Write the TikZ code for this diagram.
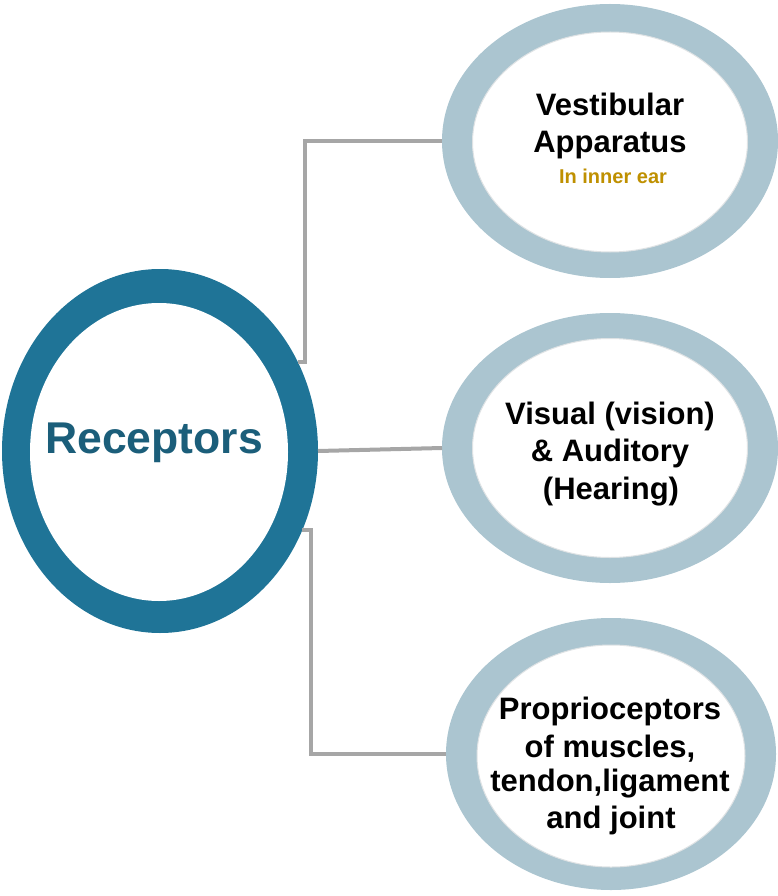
\documentclass[tikz,border=0pt]{standalone}
\usepackage{fontspec}
\setmainfont{Liberation Sans}
\usetikzlibrary{shapes.geometric}
\definecolor{ringdark}{RGB}{31,116,151}
\definecolor{textdark}{RGB}{27,94,122}
\definecolor{ringlight}{RGB}{171,197,208}
\definecolor{conncol}{RGB}{166,166,166}
\definecolor{goldtxt}{RGB}{191,144,0}
\definecolor{rimgray}{RGB}{222,226,228}
\begin{document}
\begin{tikzpicture}[x=1pt,y=-1pt,
  ring/.style={ellipse, inner sep=0pt, outer sep=0pt, fill=#1},
  hole/.style={fill=white, draw=rimgray, line width=1pt},
  conn/.style={draw=conncol, line width=4pt},
  lbl/.style={anchor=base, inner sep=0pt, text=black, font=\bfseries\fontsize{31}{37}\selectfont},
]
\useasboundingbox (0,0) rectangle (778,896);

% central ellipse
\node[ring=ringdark, minimum width=316pt, minimum height=364pt] (rec) at (160,451) {};
\fill[white] (159,452) ellipse [x radius=129, y radius=149];
\node[anchor=base, inner sep=0pt, text=textdark, font=\bfseries\fontsize{44.5}{50}\selectfont] (rectxt) at (154,453) {Receptors};

% right ellipses
\node[ring=ringlight, minimum width=336pt, minimum height=274pt] (vest) at (610,141) {};
\filldraw[hole] (610,142) ellipse [x radius=137.5, y radius=110];
\node[ring=ringlight, minimum width=336pt, minimum height=270pt] (vis) at (610,448) {};
\filldraw[hole] (610,448) ellipse [x radius=137.5, y radius=109.5];
\node[ring=ringlight, minimum width=330pt, minimum height=272pt] (prop) at (611,754) {};
\filldraw[hole] (611,756) ellipse [x radius=134, y radius=111];

% texts
\node[lbl] (v1) at (610,116) {Vestibular};
\node[lbl] (v2) at (610,153) {Apparatus};
\node[anchor=base, inner sep=0pt, text=goldtxt, font=\bfseries\fontsize{20}{24}\selectfont] (v3) at (613,183) {In inner ear};

\node[lbl] (a1) at (610,424) {Visual (vision)};
\node[lbl] (a2) at (610,461) {\& Auditory};
\node[lbl] (a3) at (611,499) {(Hearing)};

\node[lbl] (p1) at (610,719) {Proprioceptors};
\node[lbl] (p2) at (610,757) {of muscles,};
\node[lbl] (p3) at (610,791) {tendon,ligament};
\node[lbl] (p4) at (611,828) {and joint};

% connectors
\draw[conn] (rec.33) -- ++(7,0) |- (vest.west);
\draw[conn] (rec.east) -- (vis.west);
\draw[conn] (rec.-29) -- ++(9,0) |- (prop.west);
\end{tikzpicture}
\end{document}
